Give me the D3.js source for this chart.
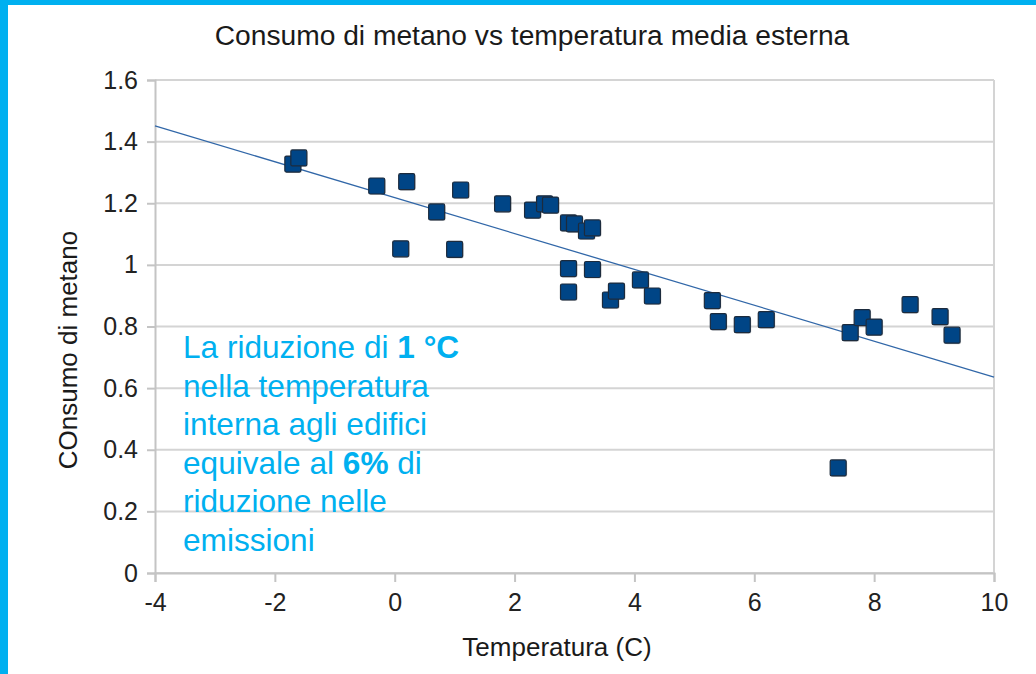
<!DOCTYPE html>
<html>
<head>
<meta charset="utf-8">
<script src="https://cdn.jsdelivr.net/npm/d3@7"></script>
<style>
  html, body { margin: 0; padding: 0; background: #fff; }
  svg text { font-family: "Liberation Sans", Arial, sans-serif; }
</style>
</head>
<body>
<div id="viz"></div>
<script>
// temperatura media esterna (C) e consumo di metano
var temps   = [-1.7, -1.6, -0.3, 0.2, 0.1, 0.7, 1.0, 1.1, 1.8, 2.3, 2.5, 2.6, 2.9, 3.0, 3.2, 3.3,
               2.9, 2.9, 3.3, 3.6, 3.7, 4.1, 4.3, 5.3, 5.4, 5.8, 6.2, 7.4, 7.6, 7.8, 8.0, 8.6, 9.1, 9.3];
var consumo = [1.327, 1.347, 1.256, 1.270, 1.052, 1.172, 1.050, 1.243, 1.198, 1.178, 1.198, 1.194, 1.136, 1.133, 1.110, 1.120,
               0.988, 0.912, 0.985, 0.886, 0.915, 0.951, 0.899, 0.884, 0.816, 0.806, 0.822, 0.341, 0.780, 0.829, 0.798, 0.871, 0.832, 0.772];

// linea di tendenza
var trendX = [-4, 10];
var trendY = [1.451, 0.636];

var xTicks = [-4, -2, 0, 2, 4, 6, 8, 10];
var yTicks = [0, 0.2, 0.4, 0.6, 0.8, 1, 1.2, 1.4, 1.6];

var title = "Consumo di metano vs temperatura media esterna";
var xTitle = "Temperatura (C)";
var yTitle = "COnsumo di metano";

// righe della nota, con parti in grassetto
var noteLines = [
  [["La riduzione di ", false], ["1 °C", true]],
  [["nella temperatura", false]],
  [["interna agli edifici", false]],
  [["equivale al ", false], ["6%", true], [" di", false]],
  [["riduzione nelle", false]],
  [["emissioni", false]]
];

var W = 1036, H = 674;
var plot = {left: 155, right: 994, top: 80, bottom: 573};
var cyan = "#00b0f0";

var svg = d3.select("#viz").append("svg")
    .attr("width", W)
    .attr("height", H);

// bordo azzurro della slide
svg.append("rect").attr("x", 0).attr("y", 0).attr("width", W).attr("height", 5).attr("fill", cyan);
svg.append("rect").attr("x", 0).attr("y", 0).attr("width", 8).attr("height", H).attr("fill", cyan);

var x = d3.scaleLinear().domain([-4, 10]).range([plot.left, plot.right]);
var y = d3.scaleLinear().domain([0, 1.6]).range([plot.bottom, plot.top]);

// griglia orizzontale
svg.append("g").selectAll("line")
    .data(yTicks)
    .enter().append("line")
      .attr("x1", plot.left).attr("x2", plot.right)
      .attr("y1", function(d) { return y(d); })
      .attr("y2", function(d) { return y(d); })
      .attr("stroke", "#d4d4d4")
      .attr("stroke-width", 2);

// bordo destro
svg.append("line")
    .attr("x1", plot.right).attr("x2", plot.right)
    .attr("y1", plot.top).attr("y2", plot.bottom)
    .attr("stroke", "#d4d4d4")
    .attr("stroke-width", 2);

var fmt = function(d) { return String(d); };

var yAxis = svg.append("g")
    .attr("transform", "translate(" + plot.left + ",0)")
    .call(d3.axisLeft(y).tickValues(yTicks).tickFormat(fmt).tickSize(8).tickPadding(9));

var xAxis = svg.append("g")
    .attr("transform", "translate(0," + plot.bottom + ")")
    .call(d3.axisBottom(x).tickValues(xTicks).tickFormat(fmt).tickSize(9).tickPadding(11));

[yAxis, xAxis].forEach(function(a) {
  a.select(".domain").attr("stroke", "#c4c4c4").attr("stroke-width", 2);
  a.selectAll(".tick line").attr("stroke", "#c4c4c4").attr("stroke-width", 2);
  a.selectAll(".tick text")
    .attr("fill", "#222")
    .style("font-size", "25px")
    .style("font-family", "'Liberation Sans', Arial, sans-serif");
});
xAxis.selectAll(".tick text").attr("dy", "0.71em");

// linea di tendenza
svg.append("line")
    .attr("x1", x(trendX[0])).attr("y1", y(trendY[0]))
    .attr("x2", x(trendX[1])).attr("y2", y(trendY[1]))
    .attr("stroke", "#3167a8")
    .attr("stroke-width", 1.3);

// punti
var pts = svg.append("g");
var size = 16;
pts.selectAll("rect.shadow")
    .data(temps)
    .enter().append("rect")
      .attr("class", "shadow")
      .attr("x", function(d) { return x(d) - size / 2 + 1; })
      .attr("y", function(d, i) { return y(consumo[i]) - size / 2 + 1; })
      .attr("width", size).attr("height", size)
      .attr("rx", 2)
      .attr("fill", "#000")
      .attr("opacity", 0.18);
pts.selectAll("rect.pt")
    .data(temps)
    .enter().append("rect")
      .attr("class", "pt")
      .attr("x", function(d) { return x(d) - size / 2; })
      .attr("y", function(d, i) { return y(consumo[i]) - size / 2; })
      .attr("width", size).attr("height", size)
      .attr("rx", 1.5)
      .attr("fill", "#004586")
      .attr("stroke", "#1c2b3d")
      .attr("stroke-width", 1.2);

// titoli
svg.append("text")
    .attr("x", 532).attr("y", 45)
    .attr("text-anchor", "middle")
    .attr("fill", "#1a1a1a")
    .style("font-size", "28.2px")
    .text(title);

svg.append("text")
    .attr("x", 557).attr("y", 656)
    .attr("text-anchor", "middle")
    .attr("fill", "#1a1a1a")
    .style("font-size", "26px")
    .text(xTitle);

svg.append("text")
    .attr("transform", "translate(77,350) rotate(-90)")
    .attr("text-anchor", "middle")
    .attr("fill", "#1a1a1a")
    .style("font-size", "26px")
    .text(yTitle);

// nota
var note = svg.append("text")
    .attr("fill", cyan)
    .style("font-size", "31.6px");
noteLines.forEach(function(line, i) {
  line.forEach(function(part, j) {
    var t = note.append("tspan")
        .style("font-weight", part[1] ? "bold" : "normal")
        .text(part[0]);
    if (j === 0) t.attr("x", 183).attr("y", 358 + i * 38.6);
  });
});
</script>
</body>
</html>
